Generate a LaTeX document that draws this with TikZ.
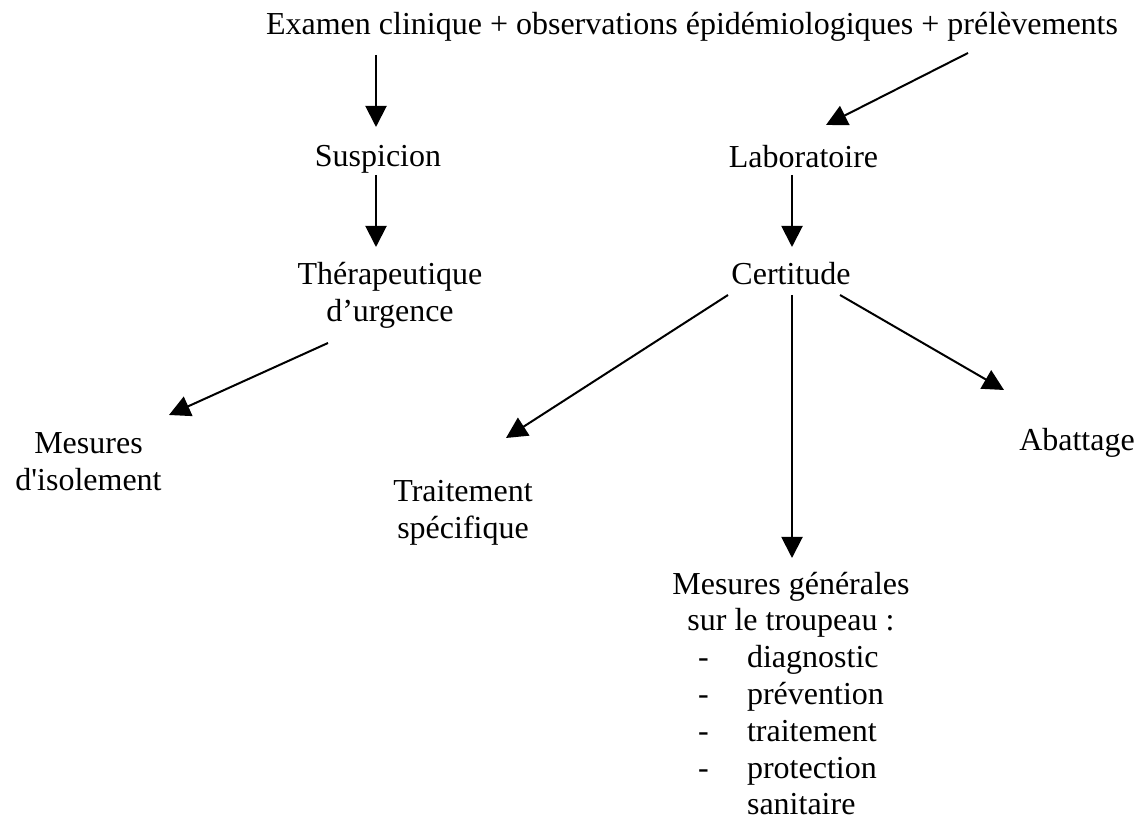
\documentclass[tikz,border=0pt]{standalone}
\usepackage{fontspec}
\newfontfamily\rawserif{Liberation Serif}
\usetikzlibrary{arrows.meta}
\newcommand\lstln[2]{\makebox[69.75pt][l]{\makebox[18.4pt][l]{#1}#2}}
\begin{document}
\begin{tikzpicture}[x=0.375pt,y=-0.375pt,
  lbl/.style={inner sep=0pt, anchor=base, align=center,
    font=\rawserif\fontsize{12pt}{13.8pt}\selectfont},
  arr/.style={line width=0.75pt, -{Triangle[length=7.9pt,width=7.9pt]}}]
\useasboundingbox (0,0) rectangle (1139,821);
% nodes (multi-line nodes are placed at the baseline of their last line)
\node[lbl] (top)  at (692,35)  {Examen clinique + observations épidémiologiques + prélèvements};
\node[lbl] (susp) at (378,167) {Suspicion};
\node[lbl] (ther) at (390,321.8) {Thérapeutique\\d’urgence};
\node[lbl] (isol) at (88.5,490.8) {Mesures\\d'isolement};
\node[lbl] (labo) at (803.5,168) {Laboratoire};
\node[lbl] (cert) at (791,285) {Certitude};
\node[lbl] (trai) at (463,538.8) {Traitement\\spécifique};
\node[lbl] (abat) at (1077,451) {Abattage};
\node[lbl] (gen)  at (791,815) {Mesures générales\\sur le troupeau :\\
  \lstln{-}{diagnostic}\\\lstln{-}{prévention}\\\lstln{-}{traitement}\\
  \lstln{-}{protection}\\\lstln{}{sanitaire}};
% connector end points
\coordinate (a1s) at (376,55);   \coordinate (a1e) at (376,127);
\coordinate (a2s) at (376,175);  \coordinate (a2e) at (376,247);
\coordinate (a3s) at (328,343);  \coordinate (a3e) at (169,415);
\coordinate (a4s) at (968,53);   \coordinate (a4e) at (826,125);
\coordinate (a5s) at (792,175);  \coordinate (a5e) at (792,247);
\coordinate (a6s) at (728,295);  \coordinate (a6e) at (506,438);
\coordinate (a7s) at (792,295);  \coordinate (a7e) at (792,558);
\coordinate (a8s) at (840,295);  \coordinate (a8e) at (1004,390);
% connectors
\draw[arr] (a1s) -- (a1e);
\draw[arr] (a2s) -- (a2e);
\draw[arr] (a3s) -- (a3e);
\draw[arr] (a4s) -- (a4e);
\draw[arr] (a5s) -- (a5e);
\draw[arr] (a6s) -- (a6e);
\draw[arr] (a7s) -- (a7e);
\draw[arr] (a8s) -- (a8e);
\end{tikzpicture}
\end{document}
